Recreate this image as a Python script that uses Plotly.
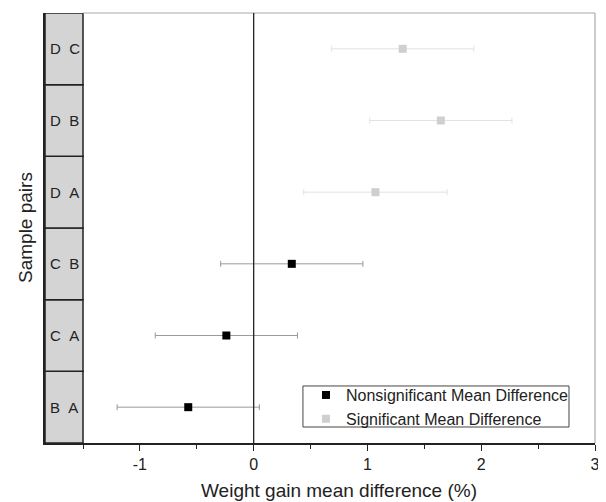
import plotly.graph_objects as go

pairs = ["B\u00a0\u00a0A", "C\u00a0\u00a0A", "C\u00a0\u00a0B", "D\u00a0\u00a0A", "D\u00a0\u00a0B", "D\u00a0\u00a0C"]
mean_diff = [-0.575, -0.24, 0.335, 1.07, 1.645, 1.31]
ci_half = [0.625, 0.625, 0.625, 0.63, 0.625, 0.625]
significant = [False, False, False, True, True, True]

fig = go.Figure()

def subset(flag):
    idx = [i for i, s in enumerate(significant) if s == flag]
    return ([mean_diff[i] for i in idx], idx, [ci_half[i] for i in idx])

x, y, e = subset(False)
fig.add_trace(go.Scatter(
    x=x, y=y, mode="markers", name="Nonsignificant Mean Difference",
    marker=dict(symbol="square", size=8, color="black"),
    error_x=dict(type="data", array=e, color="#9a9a9a", thickness=1, width=3),
))
x, y, e = subset(True)
fig.add_trace(go.Scatter(
    x=x, y=y, mode="markers", name="Significant Mean Difference",
    marker=dict(symbol="square", size=8, color="#cfcfcf"),
    error_x=dict(type="data", array=e, color="#e2e2e2", thickness=1, width=3),
))

xmin = -1.834
shapes = []
annotations = []
for i, lab in enumerate(pairs):
    shapes.append(dict(type="rect", xref="x", yref="y", x0=xmin, x1=-1.5,
                       y0=i - 0.5, y1=i + 0.5, fillcolor="#d4d4d4",
                       line=dict(color="#222", width=1.5), layer="above"))
    annotations.append(dict(x=xmin + 0.025, y=i, xref="x", yref="y", text=lab,
                            showarrow=False, xanchor="left",
                            font=dict(size=15, color="#222")))
# top and right frame
shapes.append(dict(type="line", xref="paper", yref="paper", x0=0.069, x1=1, y0=1, y1=1,
                   line=dict(color="#aaaaaa", width=1.2)))
shapes.append(dict(type="line", xref="paper", yref="paper", x0=1, x1=1, y0=0, y1=1,
                   line=dict(color="#aaaaaa", width=1.2)))
# zero line
shapes.append(dict(type="line", xref="x", yref="paper", x0=0, x1=0, y0=0, y1=1,
                   line=dict(color="#222", width=1.3)))
# compact legend frame
shapes.append(dict(type="rect", xref="paper", yref="paper", x0=0.469, x1=0.9527,
                   y0=0.0372, y1=0.1326, line=dict(color="#444", width=1)))

# axis titles
annotations.append(dict(text="Weight gain mean difference (%)", xref="paper", yref="paper",
                        x=0.5345, y=0, yshift=-47, xanchor="center", yanchor="middle",
                        showarrow=False, font=dict(size=19, color="#222")))
annotations.append(dict(text="Sample pairs", xref="paper", yref="paper",
                        x=0, y=0.5, xshift=-20, xanchor="center", yanchor="middle",
                        textangle=-90, showarrow=False, font=dict(size=19, color="#222")))

# page body has an 8px default margin, so the figure is sized to fit the window
fig.update_layout(
    width=598, height=494,
    margin=dict(l=37, r=11, t=5, b=59, autoexpand=False),
    plot_bgcolor="white", paper_bgcolor="white",
    font=dict(family="Liberation Sans, Arial, sans-serif", color="#222"),
    showlegend=True,
    legend=dict(x=0.4745, y=0.151, xanchor="left", yanchor="top",
                borderwidth=0, bgcolor="rgba(0,0,0,0)",
                font=dict(size=16), tracegroupgap=0),
    shapes=shapes,
    annotations=annotations,
    xaxis=dict(range=[xmin, 3], tickvals=[-1, 0, 1, 2, 3], ticktext=["-1", "0", "1", "2", "3"],
               automargin=False,
               showgrid=False, zeroline=False, showline=True, linecolor="#222", linewidth=1.5,
               ticks="outside", ticklen=6, tickcolor="#222", tickwidth=1.3,
               tickfont=dict(size=16),
               minor=dict(tickvals=[-1.5, -0.5, 0.5, 1.5, 2.5], ticks="outside", ticklen=4,
                          tickcolor="#222", tickwidth=1.3, showgrid=False)),
    yaxis=dict(range=[-0.5, 5.5], showticklabels=False, showgrid=False, zeroline=False,
               automargin=False,
               showline=True, linecolor="#222", linewidth=1.5, ticks=""),
)

fig.write_html("out.html")
